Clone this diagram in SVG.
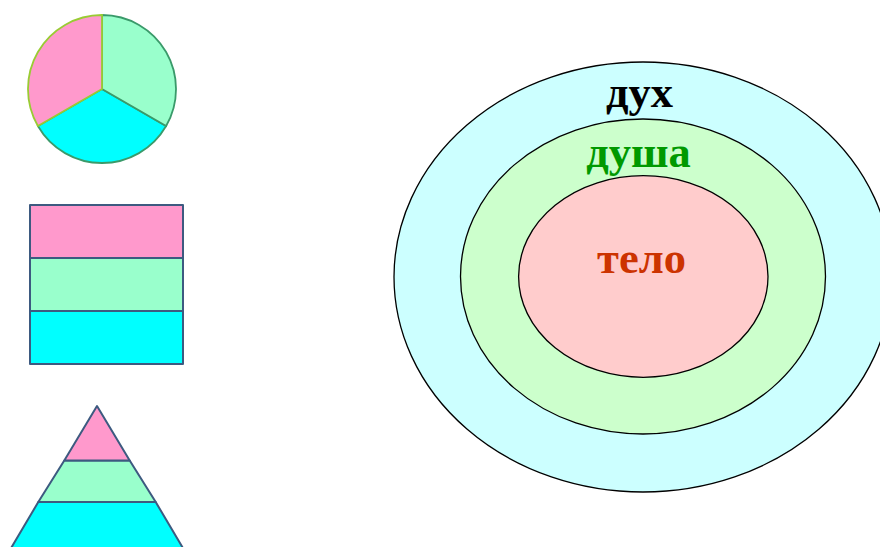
<svg xmlns="http://www.w3.org/2000/svg" width="880" height="547" viewBox="0 0 880 547">
<style>
.pink{fill:#ff99cc}
.mint{fill:#99ffcc}
.cyan{fill:#00ffff}
.blk{stroke:#3d5a80;stroke-width:2;stroke-linejoin:round}
.ell{stroke:#000;stroke-width:1.3}
.lbl{font-family:"Liberation Serif","Times New Roman",serif;font-weight:bold;font-size:44.5px;text-anchor:middle}
</style>
<rect width="880" height="547" fill="#fff"/>
<g id="pie">
<path class="cyan" d="M102,89 L166.1,126 A74,74 0 0 1 37.9,126 Z" stroke="#3a9a6a" stroke-width="1.8"/>
<path class="mint" d="M102,89 L102,15 A74,74 0 0 1 166.1,126 Z" stroke="#3a9a6a" stroke-width="1.8"/>
<path class="pink" d="M102,89 L37.9,126 A74,74 0 0 1 102,15 Z" stroke="#99cc33" stroke-width="1.8"/>
</g>
<g id="stack">
<rect class="pink blk" x="30" y="205" width="153" height="53"/>
<rect class="mint blk" x="30" y="258" width="153" height="53"/>
<rect class="cyan blk" x="30" y="311" width="153" height="53"/>
</g>
<g id="pyramid">
<polygon class="cyan blk" points="38.3,502 155.7,502 190,560 4,560"/>
<polygon class="mint blk" points="64.3,460.5 129.7,460.5 155.7,502 38.3,502"/>
<polygon class="pink blk" points="97,406 129.7,460.5 64.3,460.5"/>
</g>
<g id="spirit">
<ellipse class="ell" cx="643" cy="277" rx="249" ry="215" fill="#ccffff"/>
<text class="lbl" x="639.5" y="106.5" fill="#000">дух</text>
</g>
<g id="soul">
<ellipse class="ell" cx="643" cy="276.5" rx="182.5" ry="157.5" fill="#ccffcc"/>
<text class="lbl" x="638.5" y="166.5" fill="#009900">душа</text>
</g>
<g id="body">
<ellipse class="ell" cx="643.3" cy="276.5" rx="124.7" ry="100.8" fill="#ffcccc"/>
<text class="lbl" x="641.5" y="273" fill="#cc3300">тело</text>
</g>
</svg>
